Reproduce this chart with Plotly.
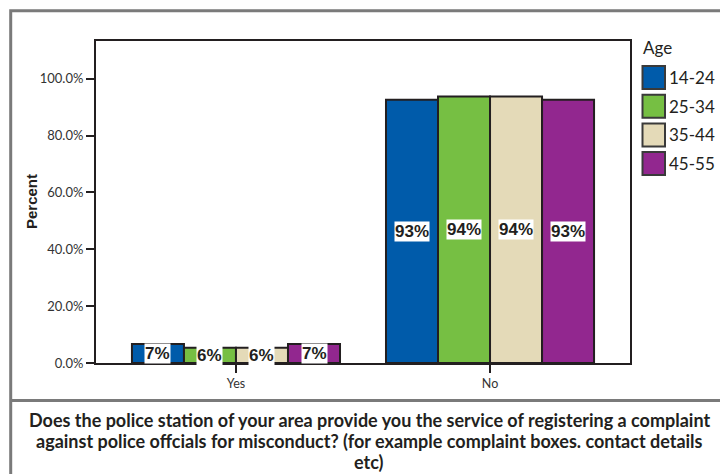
import plotly.graph_objects as go

categories = ["Yes", "No"]
series_names = ["14-24", "25-34", "35-44", "45-55"]
colors = ["#005BAA", "#76BF43", "#E4DAB8", "#92278F"]
values = {
    "14-24": [6.7, 92.6],
    "25-34": [5.4, 93.8],
    "35-44": [5.4, 93.8],
    "45-55": [6.7, 92.6],
}
labels = {
    "14-24": ["7%", "93%"],
    "25-34": ["6%", "94%"],
    "35-44": ["6%", "94%"],
    "45-55": ["7%", "93%"],
}
y_ticks = [0, 20, 40, 60, 80, 100]
y_ticktext = ["0.0%", "20.0%", "40.0%", "60.0%", "80.0%", "100.0%"]
title_lines = [
    "Does the police station of your area provide you the service of registering a complaint",
    "against police offcials for misconduct? (for example complaint boxes. contact details",
    "etc)",
]

W, H = 720, 474
PL, PR, PT, PB = 96, 630, 41, 363          # plot area in pixels
ML, MT = PL, PT
MR, MB = W - PR, H - PB
PW, PH = PR - PL, PB - PT

def px(x):
    return (x - PL) / PW

def py(y):
    return (PB - y) / PH

BARGAP = 0.181
n = len(series_names)
bw = (1 - BARGAP) / n
xs = list(range(len(categories)))

SANS = "Lato, Roboto, sans-serif"
BOLD = "Liberation Sans, Arial, sans-serif"

fig = go.Figure()
annotations = []
for i, name in enumerate(series_names):
    fig.add_trace(go.Bar(
        x=xs, y=values[name], name=name,
        marker=dict(color=colors[i], line=dict(color="#231f20", width=2)),
        showlegend=False,
    ))
    off = (i - (n - 1) / 2) * bw
    for j, v in enumerate(values[name]):
        annotations.append(dict(
            x=xs[j] + off, y=v / 2, xref="x", yref="y",
            text="<b>" + labels[name][j] + "</b>", showarrow=False,
            font=dict(family=BOLD, size=17, color="#231f20"),
            bgcolor="white", borderpad=0,
        ))

# legend (manual)
annotations.append(dict(x=px(641), y=py(48), xref="paper", yref="paper",
                        text="Age", showarrow=False, xanchor="left", yanchor="middle",
                        font=dict(family=SANS, size=17, color="#231f20")))
shapes = []
for i, name in enumerate(series_names):
    top = 66 + 28.7 * i
    shapes.append(dict(type="rect", xref="paper", yref="paper",
                       x0=px(642.5), x1=px(665), y0=py(top), y1=py(top + 23),
                       fillcolor=colors[i], line=dict(color="#3a3a3a", width=2)))
    annotations.append(dict(x=px(667), y=py(top + 11.5), xref="paper", yref="paper",
                            text=name, showarrow=False, xanchor="left", yanchor="middle",
                            font=dict(family=SANS, size=17, color="#231f20")))

# y-axis title
annotations.append(dict(x=px(31), y=py(202), xref="paper", yref="paper",
                        text="<b>Percent</b>", showarrow=False, textangle=-90,
                        xanchor="center", yanchor="middle",
                        font=dict(family=BOLD, size=15, color="#231f20")))

# bottom title, one annotation per line
for k, line in enumerate(title_lines):
    annotations.append(dict(x=px(369), y=py(420 + 21 * k), xref="paper", yref="paper",
                            text="<b>" + line + "</b>", showarrow=False,
                            xanchor="center", yanchor="middle",
                            font=dict(family=SANS, size=18, color="#231f20")))

# outer frame and separator
shapes.append(dict(type="rect", xref="paper", yref="paper",
                   x0=px(10.7), x1=px(735), y0=py(490), y1=py(10.7),
                   line=dict(color="#7a7a7a", width=3), fillcolor="rgba(0,0,0,0)"))
shapes.append(dict(type="line", xref="paper", yref="paper",
                   x0=px(10.7), x1=px(735), y0=py(400.5), y1=py(400.5),
                   line=dict(color="#7a7a7a", width=3)))

fig.update_layout(
    width=W, height=H,
    margin=dict(l=ML, r=MR, t=MT, b=MB),
    paper_bgcolor="white", plot_bgcolor="white",
    barmode="group", bargap=BARGAP, bargroupgap=0,
    showlegend=False,
    annotations=annotations, shapes=shapes,
    xaxis=dict(range=[-0.551, 1.551], tickvals=xs, ticktext=categories,
               showline=True, linecolor="#231f20", linewidth=2, mirror=True,
               ticks="outside", ticklen=8, tickwidth=2, tickcolor="#231f20",
               showgrid=False, zeroline=False,
               tickfont=dict(family=SANS, size=12.5, color="#333333")),
    yaxis=dict(range=[0, 113.3], tickvals=y_ticks, ticktext=y_ticktext,
               showline=True, linecolor="#231f20", linewidth=2, mirror=True,
               ticks="outside", ticklen=8, tickwidth=2, tickcolor="#231f20",
               showgrid=False, zeroline=False,
               tickfont=dict(family=SANS, size=13, color="#333333")),
)

fig.write_html(
    "out.html",
    config={"displayModeBar": False},
    post_script="document.body.style.margin='0';document.body.style.overflow='hidden';",
)
